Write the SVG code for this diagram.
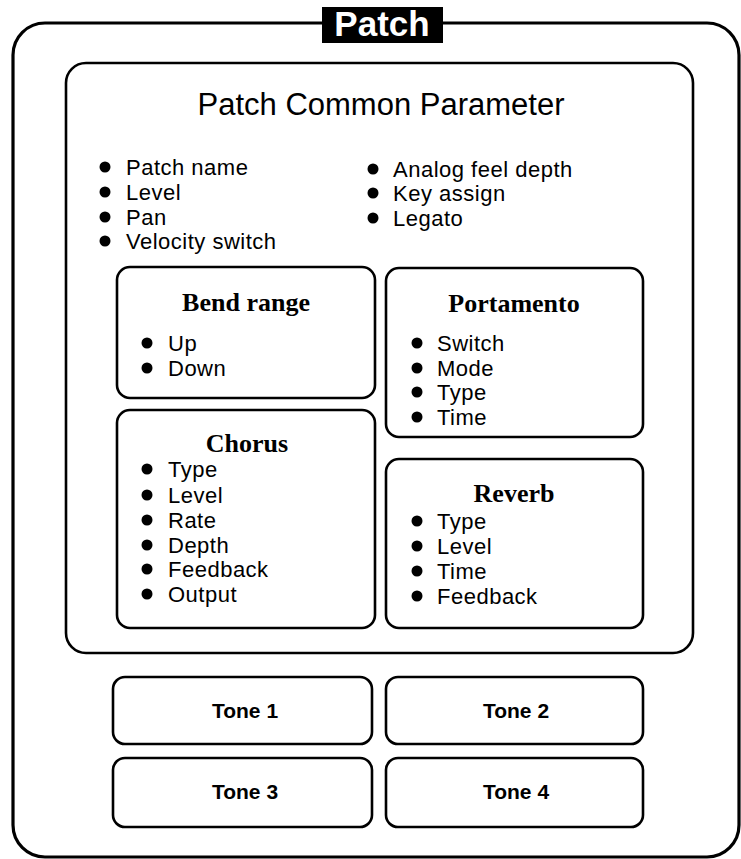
<svg xmlns="http://www.w3.org/2000/svg" width="741" height="859" viewBox="0 0 741 859">
<defs>
<style>
.box{fill:#fff;stroke:#000;stroke-width:2.6}
.outer{fill:#fff;stroke:#000;stroke-width:3.2}
.it{font-family:"Liberation Sans",Arial,sans-serif;font-size:22px;letter-spacing:0.5px;fill:#000}
.ttl{font-family:"Liberation Serif","Times New Roman",serif;font-size:26px;font-weight:bold;fill:#000;text-anchor:middle}
.tone{font-family:"Liberation Sans",Arial,sans-serif;font-size:21px;font-weight:bold;fill:#000;text-anchor:middle}
.b{fill:#000}
</style>
<circle id="dot" r="5.5"/>
</defs>
<rect width="741" height="859" fill="#fff"/>
<g id="patch">
<rect class="outer" x="13" y="23" width="726" height="834" rx="32"/>
<rect x="322" y="7" width="121" height="36" fill="#000"/>
<text x="382" y="36" font-family="Liberation Sans,Arial,sans-serif" font-size="35" font-weight="bold" fill="#fff" text-anchor="middle">Patch</text>
</g>
<g id="common">
<rect class="box" x="66" y="63" width="627" height="590" rx="20"/>
<text x="381" y="115" font-family="Liberation Sans,Arial,sans-serif" font-size="31" text-anchor="middle">Patch Common Parameter</text>
<g class="b">
<use href="#dot" x="105" y="167"/><use href="#dot" x="105" y="192"/><use href="#dot" x="105" y="217"/><use href="#dot" x="105" y="241"/>
<use href="#dot" x="373" y="169"/><use href="#dot" x="373" y="193"/><use href="#dot" x="373" y="218"/>
</g>
<text class="it" x="126" y="175">Patch name</text>
<text class="it" x="126" y="200">Level</text>
<text class="it" x="126" y="225">Pan</text>
<text class="it" x="126" y="249">Velocity switch</text>
<text class="it" x="393" y="177">Analog feel depth</text>
<text class="it" x="393" y="201">Key assign</text>
<text class="it" x="393" y="226">Legato</text>
</g>
<g id="bend">
<rect class="box" x="117" y="267" width="258" height="131" rx="13"/>
<text class="ttl" x="246" y="311">Bend range</text>
<use href="#dot" x="147" y="343"/><use href="#dot" x="147" y="368"/>
<text class="it" x="168" y="351">Up</text>
<text class="it" x="168" y="376">Down</text>
</g>
<g id="portamento">
<rect class="box" x="386" y="268" width="257" height="169" rx="13"/>
<text class="ttl" x="514" y="312">Portamento</text>
<use href="#dot" x="417" y="343"/><use href="#dot" x="417" y="368"/><use href="#dot" x="417" y="392"/><use href="#dot" x="417" y="417"/>
<text class="it" x="437" y="351">Switch</text>
<text class="it" x="437" y="376">Mode</text>
<text class="it" x="437" y="400">Type</text>
<text class="it" x="437" y="425">Time</text>
</g>
<g id="chorus">
<rect class="box" x="117" y="410" width="258" height="218" rx="13"/>
<text class="ttl" x="247" y="452">Chorus</text>
<use href="#dot" x="147" y="469"/><use href="#dot" x="147" y="495"/><use href="#dot" x="147" y="520"/><use href="#dot" x="147" y="545"/><use href="#dot" x="147" y="569"/><use href="#dot" x="147" y="594"/>
<text class="it" x="168" y="477">Type</text>
<text class="it" x="168" y="503">Level</text>
<text class="it" x="168" y="528">Rate</text>
<text class="it" x="168" y="553">Depth</text>
<text class="it" x="168" y="577">Feedback</text>
<text class="it" x="168" y="602">Output</text>
</g>
<g id="reverb">
<rect class="box" x="386" y="459" width="257" height="169" rx="13"/>
<text class="ttl" x="514" y="502">Reverb</text>
<use href="#dot" x="417" y="521"/><use href="#dot" x="417" y="546"/><use href="#dot" x="417" y="571"/><use href="#dot" x="417" y="596"/>
<text class="it" x="437" y="529">Type</text>
<text class="it" x="437" y="554">Level</text>
<text class="it" x="437" y="579">Time</text>
<text class="it" x="437" y="604">Feedback</text>
</g>
<g id="tone1">
<rect class="box" x="113" y="677" width="259" height="67" rx="12"/>
<text class="tone" x="245" y="718">Tone 1</text>
</g>
<g id="tone2">
<rect class="box" x="386" y="677" width="257" height="67" rx="12"/>
<text class="tone" x="516" y="718">Tone 2</text>
</g>
<g id="tone3">
<rect class="box" x="113" y="758" width="259" height="69" rx="12"/>
<text class="tone" x="245" y="799">Tone 3</text>
</g>
<g id="tone4">
<rect class="box" x="386" y="758" width="257" height="69" rx="12"/>
<text class="tone" x="516" y="799">Tone 4</text>
</g>
<g id="connectors"/>
</svg>
